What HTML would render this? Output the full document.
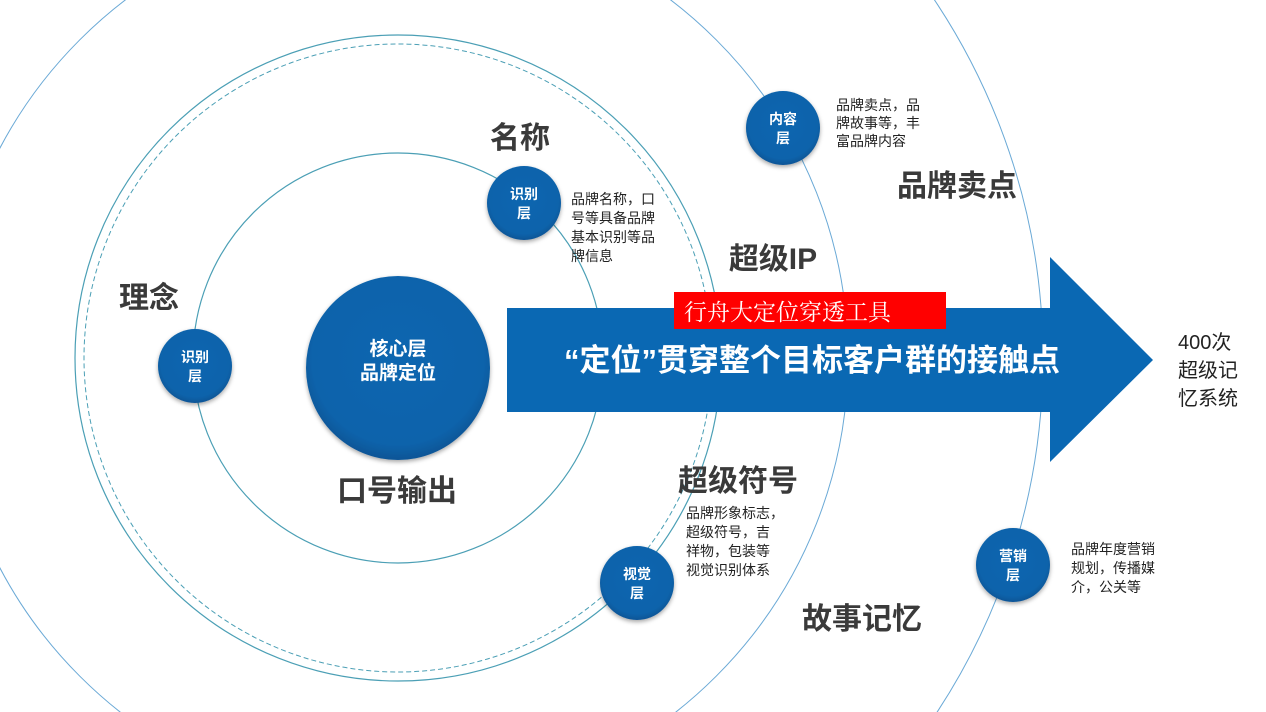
<!DOCTYPE html>
<html><head><meta charset="utf-8"><style>
html,body{margin:0;padding:0;background:#fff;width:1266px;height:712px;overflow:hidden;}
svg{display:block;overflow:hidden;}
text{font-family:"Liberation Sans","Noto Sans CJK SC",sans-serif;}
</style></head><body>
<svg width="1266" height="712" viewBox="0 0 1266 712" xmlns="http://www.w3.org/2000/svg">
<defs>
<radialGradient id="g" cx="50%" cy="45%" r="55%">
<stop offset="0%" stop-color="#0a66b0"/><stop offset="85%" stop-color="#0a63ab"/><stop offset="100%" stop-color="#0b5596"/>
</radialGradient>
<filter id="s" x="-30%" y="-30%" width="160%" height="160%"><feDropShadow dx="0" dy="2" stdDeviation="2" flood-color="#000" flood-opacity="0.35"/></filter>
<clipPath id="c"><rect x="0" y="0" width="1266" height="712"/></clipPath>
</defs>
<g clip-path="url(#c)">
<g fill="none">
<circle cx="398" cy="358" r="205" stroke="#4b9fb5" stroke-width="1.2"/>
<circle cx="398" cy="358" r="323" stroke="#4b9fb5" stroke-width="1.2"/>
<circle cx="398" cy="358" r="314" stroke="#4b9fb5" stroke-width="1" stroke-dasharray="5,3"/>
<circle cx="398" cy="358" r="450" stroke="#6aa9d6" stroke-width="1"/>
<circle cx="398" cy="358" r="645" stroke="#6aa9d6" stroke-width="1"/>
</g>
<polygon points="507,308 1050,308 1050,257 1153,360 1050,462 1050,412 507,412" fill="#0a68b3"/>
<rect x="674" y="292" width="272" height="37" fill="#ff0000"/>
<text x="684" y="320" style="font-family:'Liberation Serif','Noto Serif CJK SC',serif" font-size="23" fill="#fff">行舟大定位穿透工具</text>
<text x="812" y="371" font-size="31" font-weight="bold" fill="#fff" text-anchor="middle">“定位”贯穿整个目标客户群的接触点</text>
<circle cx="398" cy="368" r="92" fill="url(#g)" filter="url(#s)"/>
<text x="398" y="355" font-size="19" font-weight="bold" fill="#fff" text-anchor="middle">核心层</text>
<text x="398" y="379" font-size="19" font-weight="bold" fill="#fff" text-anchor="middle">品牌定位</text>
<g filter="url(#s)" fill="url(#g)">
<circle cx="195" cy="366" r="37"/>
<circle cx="524" cy="203" r="37"/>
<circle cx="783" cy="128" r="37"/>
<circle cx="637" cy="583" r="37"/>
<circle cx="1013" cy="565" r="37"/>
</g>
<g font-size="14" font-weight="bold" fill="#fff" text-anchor="middle">
<text x="195" y="362">识别</text><text x="195" y="381">层</text>
<text x="524" y="199">识别</text><text x="524" y="218">层</text>
<text x="783" y="124">内容</text><text x="783" y="143">层</text>
<text x="637" y="579">视觉</text><text x="637" y="598">层</text>
<text x="1013" y="561">营销</text><text x="1013" y="580">层</text>
</g>
<g font-size="30" font-weight="bold" fill="#3a3a3a" text-anchor="middle">
<text x="520" y="148">名称</text>
<text x="149" y="308">理念</text>
<text x="397" y="501">口号输出</text>
<text x="773" y="269">超级IP</text>
<text x="957" y="196">品牌卖点</text>
<text x="738" y="491">超级符号</text>
<text x="862" y="629">故事记忆</text>
</g>
<g font-size="14" fill="#222">
<text x="571" y="204">品牌名称，口</text><text x="571" y="223">号等具备品牌</text><text x="571" y="242">基本识别等品</text><text x="571" y="261">牌信息</text>
<text x="836" y="110">品牌卖点，品</text><text x="836" y="128">牌故事等，丰</text><text x="836" y="146">富品牌内容</text>
<text x="686" y="518">品牌形象标志，</text><text x="686" y="537">超级符号，吉</text><text x="686" y="556">祥物，包装等</text><text x="686" y="575">视觉识别体系</text>
<text x="1071" y="554">品牌年度营销</text><text x="1071" y="573">规划，传播媒</text><text x="1071" y="592">介，公关等</text>
</g>
<g font-size="20" fill="#222">
<text x="1178" y="349">400次</text><text x="1178" y="377">超级记</text><text x="1178" y="405">忆系统</text>
</g>
</g>
</svg>
</body></html>
